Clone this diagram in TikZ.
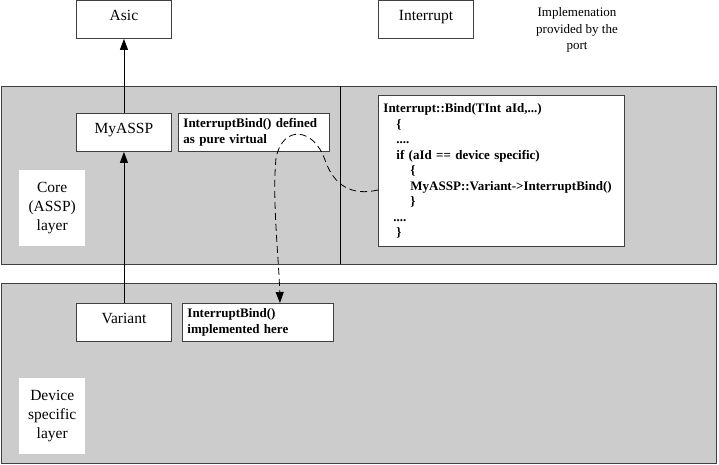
\documentclass[tikz,border=0pt]{standalone}
\usepackage{fontspec}
\setmainfont{Liberation Serif}
\usepackage{tikz}
\usetikzlibrary{arrows.meta,positioning}
\definecolor{cLayer}{HTML}{CCCCCC}
\definecolor{cEdge}{HTML}{404040}
\tikzset{
  box/.style   = {rectangle, draw=cEdge, fill=white, line width=0.9pt, anchor=north west,
                  inner sep=0pt, font=\fontsize{15.5}{19}\selectfont,
                  text height=10pt, text depth=8pt},
  note/.style  = {rectangle, draw=cEdge, fill=white, line width=0.9pt, anchor=north west,
                  align=left, inner xsep=5pt, inner ysep=2pt,
                  font=\fontsize{13}{16}\selectfont\bfseries},
  lane/.style  = {rectangle, draw=cEdge, fill=cLayer, line width=1.1pt, anchor=north west,
                  inner sep=0pt},
  tag/.style   = {rectangle, fill=white, anchor=north west, align=center, inner sep=0pt,
                  font=\fontsize{15.5}{19}\selectfont},
  fl/.style    = {-{Triangle[length=11pt,width=8pt]}, draw=black, line width=0.9pt},
  dsh/.style   = {-{Triangle[length=11pt,width=8pt]}, draw=black, line width=0.8pt,
                  dash pattern=on 7pt off 4pt},
}

\begin{document}
\begin{tikzpicture}[x=1pt,y=-1pt]
  \useasboundingbox (0,0) rectangle (719,464);

  % layers
  \node[lane, minimum width=715pt, minimum height=178pt] (coreLayer) at (1,86) {};
  \node[lane, minimum width=715pt, minimum height=180pt] (devLayer) at (1,283) {};
  \draw[draw=black, line width=0.9pt] (340,86) -- (340,264);

  \node[tag, minimum width=66pt, minimum height=76pt] (coreTag) at (19,170) {Core\\(ASSP)\\layer};
  \node[tag, minimum width=66pt, minimum height=76pt] (devTag) at (19,378) {Device\\specific\\layer};

  % boxes
  \node[box, minimum width=95pt, minimum height=38pt] (asic) at (76,0) {Asic};
  \node[box, minimum width=95pt, minimum height=38pt] (intr) at (378,0) {Interrupt};
  \node[align=center, font=\fontsize{13}{16.5}\selectfont] (port) at (577,30)
       {Implemenation\\provided by the\\port};
  \node[box, minimum width=95pt, minimum height=38pt] (myassp) at (76,113) {MyASSP};
  \node[box, minimum width=95pt, minimum height=38pt] (variant) at (76,303) {Variant};
  \node[note, text width=141pt, minimum height=38pt] (pureVirt) at (178,113)
       {InterruptBind() defined\\as pure virtual};
  \node[note, text width=141pt, minimum height=38pt] (implHere) at (182,303)
       {InterruptBind()\\implemented here};
  \node[note, text width=236pt, minimum height=151pt,
        font=\fontsize{13}{15.5}\selectfont\bfseries] (bind) at (378,95)
       {Interrupt::Bind(TInt aId,...)\\
        \hspace*{13pt}\{\\
        \hspace*{13pt}....\\
        \hspace*{13pt}if (aId == device specific)\\
        \hspace*{27pt}\{\\
        \hspace*{27pt}MyASSP::Variant->InterruptBind()\\
        \hspace*{27pt}\}\\
        \hspace*{10pt}....\\
        \hspace*{13pt}\}};
  \coordinate (bindCall) at (bind.west |- 0,190);

  \draw[fl] (variant.north) -- (myassp.south);
  \draw[fl] (myassp.north) -- (asic.south);
  \draw[dsh] (bindCall) .. controls (352,196) and (334,186) .. (325,160)
             .. controls (314,128) and (283,124) .. (276,158)
             .. controls (272,200) and (279,260) .. ([xshift=22pt]implHere.north);
\end{tikzpicture}
\end{document}
